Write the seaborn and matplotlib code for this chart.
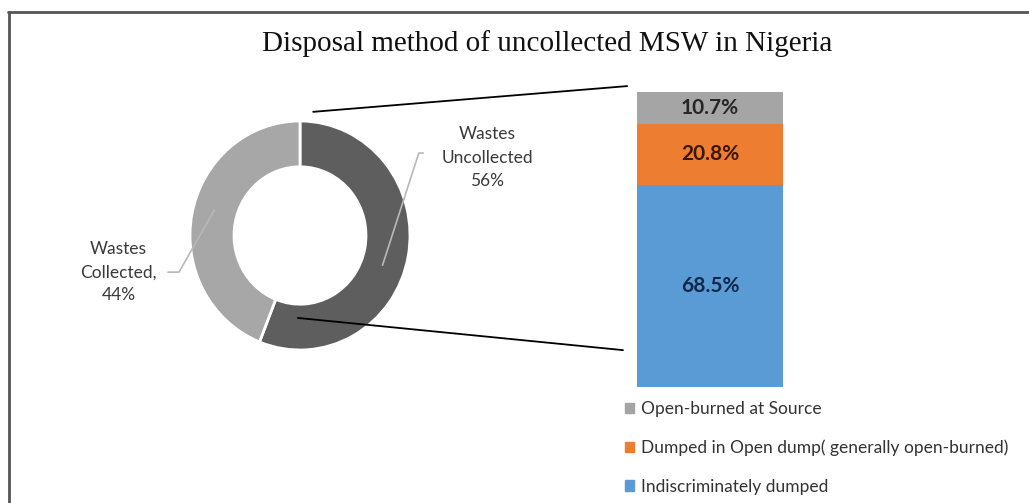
import matplotlib
matplotlib.use("Agg")
import matplotlib.pyplot as plt
from matplotlib.patches import ConnectionPatch
from matplotlib.lines import Line2D
import seaborn as sns
import pandas as pd
import numpy as np

# ---- data ----
pie_labels = ["Wastes\nUncollected\n56%", "Wastes\nCollected,\n44%"]
pie_values = [56, 44]
pie_colors = ["#5e5e5e", "#a7a7a7"]

bar_categories = ["Open-burned at Source",
                  "Dumped in Open dump( generally open-burned)",
                  "Indiscriminately dumped"]
bar_values = [10.7, 20.8, 68.5]
bar_colors = ["#a5a5a5", "#ed7d31", "#5b9bd5"]
bar_text_colors = ["#262626", "#3b1600", "#10284a"]

title = "Disposal method of uncollected MSW in Nigeria"

sns.set_theme(style="white")
plt.rcParams["font.family"] = ["Lato", "DejaVu Sans"]

W, H = 1029, 503
fig = plt.figure(figsize=(W / 100, H / 100), dpi=100)
fig.patch.set_facecolor("white")

def fx(px):
    return px / W

def fy(py):
    return 1 - py / H

# frame lines (spreadsheet border)
fig.add_artist(Line2D([fx(8), 1.0], [fy(12), fy(12)], transform=fig.transFigure,
                      color="#555555", lw=2))
fig.add_artist(Line2D([fx(9), fx(9)], [fy(12), 0.0], transform=fig.transFigure,
                      color="#555555", lw=2))

fig.text(fx(547), fy(51), title, ha="center", va="baseline",
         family="Liberation Serif", fontsize=21, color="#111111")

# ---- donut ----
ax_pie = fig.add_axes([fx(190), fy(350), fx(220), 229 / H])
wedges, _ = ax_pie.pie(pie_values, colors=pie_colors, startangle=90, counterclock=False,
                       radius=1.0, wedgeprops=dict(width=0.4, edgecolor="white", linewidth=2))
ax_pie.set_xlim(-1, 1)
ax_pie.set_ylim(-1, 1)
ax_pie.set_aspect("auto")
ax_pie.axis("off")

# data labels with leader lines
label_pos = [(1.7, 0.68), (-1.65, -0.32)]
leader_pts = [
    [(1.12, 0.72), (1.08, 0.72), (0.75, -0.26)],
    [(-1.2, -0.32), (-1.1, -0.32), (-0.78, 0.22)],
]
for lab, (lx, ly), pts in zip(pie_labels, label_pos, leader_pts):
    ax_pie.text(lx, ly, lab, ha="center", va="center", fontsize=12.5,
                color="#3a3a3a", linespacing=1.55, clip_on=False)
    xs, ys = zip(*pts)
    ax_pie.add_line(Line2D(xs, ys, color="#b8b8b8", lw=1.2, clip_on=False))

# ---- stacked bar ----
ax_bar = fig.add_axes([fx(637), fy(387), fx(146), 295 / H])
cum = np.cumsum(bar_values[::-1])[::-1]  # top of each segment: 100, 89.3, 68.5
df = pd.DataFrame({"x": ["a"] * 3, "top": cum, "cat": bar_categories})
for i in range(3):
    sns.barplot(data=df.iloc[[i]], x="x", y="top", color=bar_colors[i], width=1.0,
                ax=ax_bar, saturation=1, edgecolor="none")
ax_bar.set_xlim(-0.5, 0.5)
ax_bar.set_ylim(0, 100)
ax_bar.axis("off")

bottoms = list(cum - np.array(bar_values))
for v, b, c in zip(bar_values, bottoms, bar_text_colors):
    ax_bar.text(0, b + v / 2, f"{v}%", ha="center", va="center", fontsize=15,
                fontweight="bold", color=c)

# legend below bar
handles = [plt.Rectangle((0, 0), 1, 1, color=c) for c in bar_colors]
fig.legend(handles, bar_categories, loc="upper left", bbox_to_anchor=(fx(618), fy(394)),
           frameon=False, fontsize=12.5, handlelength=0.55, handleheight=0.55,
           handletextpad=0.35, labelspacing=1.3, labelcolor="#333333", borderaxespad=0)

# connector lines from donut to bar
for (pa, pb) in [((0.12, 1.08), (-0.568, 102)), ((-0.02, -0.72), (-0.596, 12.5))]:
    con = ConnectionPatch(xyA=pa, coordsA=ax_pie.transData, xyB=pb, coordsB=ax_bar.transData,
                          color="black", lw=1.3)
    fig.add_artist(con)

fig.savefig("out.png", dpi=100, facecolor="white")
